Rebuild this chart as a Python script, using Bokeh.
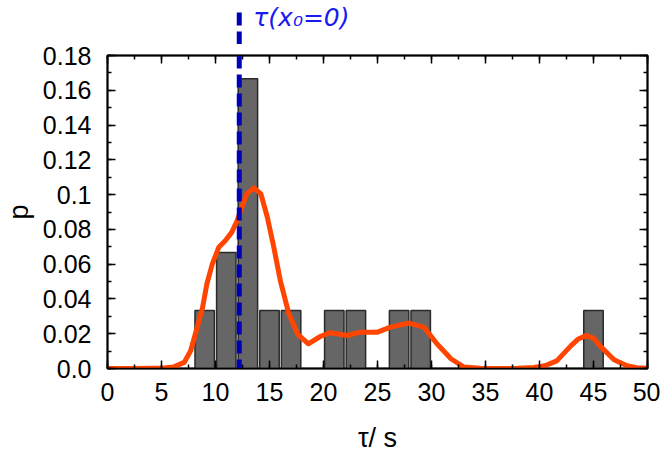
from bokeh.plotting import figure
from bokeh.layouts import column
from bokeh.models import (Range1d, LinearAxis, SingleIntervalTicker, CustomJSTickFormatter,
                          Span, Label, ColumnDataSource)
from bokeh.embed import file_html
from bokeh.resources import INLINE

# ---- data ----
bar_centers = [9, 11, 13, 15, 17, 21, 23, 27, 29, 45]
bar_p = [0.0333, 0.0667, 0.1667, 0.0333, 0.0333, 0.0333, 0.0333, 0.0333, 0.0333, 0.0333]
bar_width = 1.8

curve_x = [0, 2, 4, 5.2, 6.1, 7.1, 7.7, 8.3, 8.8, 9.2, 9.7, 10.3, 10.9, 11.5, 12.0, 12.5,
           12.9, 13.55, 14.2, 14.8, 15.4, 16.0, 16.8, 17.6, 18.6, 19.7, 20.6, 21.4, 22.2,
           23.4, 25.0, 26.2, 27.9, 29.3, 30.5, 31.8, 33.0, 34.5, 36, 38, 39.5, 40.5, 41.6,
           42.9, 43.6, 44.3, 45.0, 45.6, 46.9, 48.1, 49, 50]
curve_p = [0, 0, 0.0001, 0.0003, 0.0008, 0.0035, 0.0102, 0.0236, 0.035, 0.0486, 0.060,
           0.0697, 0.0735, 0.0783, 0.085, 0.0937, 0.1004, 0.1039, 0.1004, 0.087, 0.0697,
           0.0506, 0.0313, 0.0198, 0.0142, 0.0184, 0.0206, 0.0198, 0.019, 0.0209, 0.0209,
           0.0238, 0.0261, 0.0238, 0.0142, 0.0056, 0.0008, 0.0001, 0, 0.0001, 0.0006,
           0.0016, 0.0044, 0.013, 0.017, 0.019, 0.0175, 0.013, 0.005, 0.0016, 0.0005, 0.0001]

tau0 = 12.2
tau0_label = "τ(x₀=0)"

x_min, x_max, x_step = 0, 50, 5
y_min, y_max, y_step = 0, 0.18, 0.02
x_title = "τ/ s"
y_title = "p"

FONT = "Liberation Sans"
DASH_COLOR = "#0000B8"
DASH = "13 6"
W = 660
LEFT, RIGHT = 107, 13
HEAD_H = 44

xr = Range1d(x_min, x_max)

# ---- strip above the box: the marker continues, plus its label ----
head = figure(width=W, height=HEAD_H, output_backend="svg", toolbar_location=None,
              x_range=xr, y_range=Range1d(0, HEAD_H), x_axis_type=None, y_axis_type=None,
              min_border_left=LEFT, min_border_right=RIGHT, min_border_top=0,
              min_border_bottom=0)
head.grid.visible = False
head.outline_line_color = None
head.segment(x0=[tau0], y0=[0], x1=[tau0], y1=[HEAD_H - 10], line_color=DASH_COLOR,
             line_width=5, line_dash=DASH)
head.add_layout(Label(x=tau0 + 1.3, y=HEAD_H - 2, text=tau0_label, text_baseline="top",
                      text_font="DejaVu Sans", text_font_style="italic",
                      text_font_size="25px", text_color="#1A1AF0"))

# ---- main plot ----
p = figure(width=W, height=458 - HEAD_H, output_backend="svg", toolbar_location=None,
           x_range=xr, y_range=Range1d(y_min, y_max),
           min_border_left=LEFT, min_border_right=RIGHT, min_border_top=55 - HEAD_H,
           min_border_bottom=90)
p.grid.visible = False
p.outline_line_color = "#000000"
p.outline_line_width = 2
p.outline_line_alpha = 1.0

xt = SingleIntervalTicker(interval=x_step, num_minor_ticks=2)
yt = SingleIntervalTicker(interval=y_step, num_minor_ticks=2)
yfmt = CustomJSTickFormatter(code="return Math.abs(tick) < 1e-9 ? '0.0' : String(Number(tick.toFixed(2)));")
blank = CustomJSTickFormatter(code="return '';")

def style(ax, labels=True):
    ax.major_tick_in = 8
    ax.major_tick_out = 0
    ax.minor_tick_in = 4
    ax.minor_tick_out = 0
    ax.axis_line_width = 1.5
    ax.axis_line_color = "#000000"
    ax.major_tick_line_width = 1.5
    ax.minor_tick_line_width = 1.5
    ax.major_tick_line_color = "#000000"
    ax.minor_tick_line_color = "#000000"
    ax.major_label_text_font = FONT
    ax.major_label_text_font_size = "25px"
    ax.major_label_text_color = "black"
    ax.axis_label_text_font = FONT
    ax.axis_label_text_font_size = "27px"
    ax.axis_label_text_font_style = "normal"
    ax.axis_label_text_color = "black"
    if not labels:
        ax.formatter = blank
        ax.major_label_text_font_size = "1px"
        ax.major_label_text_color = None
        ax.major_label_standoff = 0

p.xaxis.ticker = xt
p.yaxis.ticker = yt
p.yaxis.formatter = yfmt
p.xaxis.axis_label = x_title
p.yaxis.axis_label = y_title
style(p.xaxis[0])
style(p.yaxis[0])
p.xaxis.major_label_standoff = 14
p.yaxis.major_label_standoff = 16
p.xaxis.axis_label_standoff = 19
p.yaxis.axis_label_standoff = 6

top = LinearAxis(ticker=xt)
right = LinearAxis(ticker=yt)
style(top, False)
style(right, False)
p.add_layout(top, "above")
p.add_layout(right, "right")

src = ColumnDataSource(dict(x=bar_centers, top=bar_p))
p.vbar(x="x", top="top", width=bar_width, bottom=0, source=src,
       fill_color="#666666", line_color="#2a2a2a", line_width=1.5)

p.line(curve_x, curve_p, line_color="#FF4500", line_width=5, line_join="round")

p.add_layout(Span(location=tau0, dimension="height", line_color=DASH_COLOR,
                  line_width=5, line_dash=DASH))

open("out.html", "w").write(file_html(column(head, p, spacing=0), INLINE))
